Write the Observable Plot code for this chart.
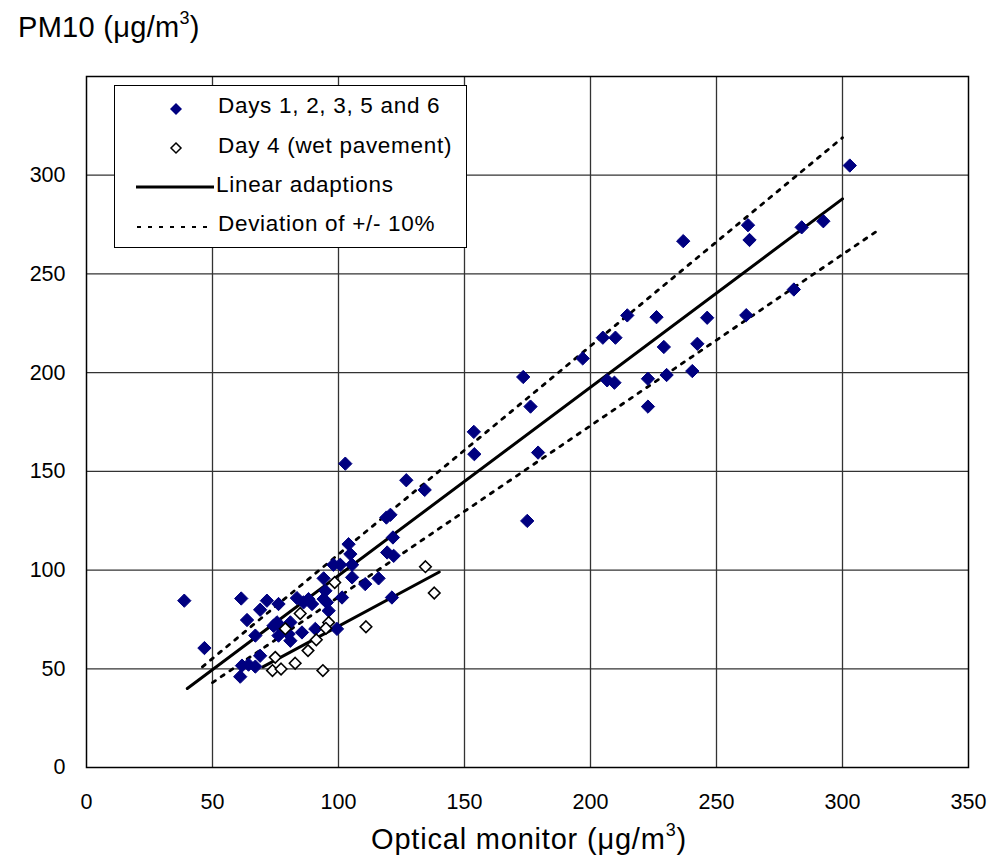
<!DOCTYPE html>
<html>
<head>
<meta charset="utf-8">
<script src="https://cdn.jsdelivr.net/npm/d3@7"></script>
<script src="https://cdn.jsdelivr.net/npm/@observablehq/plot@0.6"></script>
<style>
  html, body { margin: 0; padding: 0; background: #fff; }
  #wrap { position: relative; width: 1002px; height: 856px; font-family: "Liberation Sans", Arial, sans-serif; color: #000; }
  #wrap svg.plot { position: absolute; left: 0; top: 0; }
  .ttl { position: absolute; font-size: 29px; white-space: nowrap; line-height: 1; }
  .ttl sup { font-size: 18px; vertical-align: 13px; line-height: 0; }
  #legend { position: absolute; left: 114px; top: 85px; width: 351px; height: 161px; border: 1.5px solid #000; background: #fff; }
</style>
</head>
<body>
<div id="wrap"></div>
<script>
// Days 1, 2, 3, 5 and 6 (filled diamonds)
const daysX = [38.8,46.8,61.4,61,63.7,61.7,64.3,67,68.9,67,68.9,71.6,76.2,74.2,75.6,76.2,77.6,80.9,80.9,80.2,83.5,85.5,86.1,88.1,89.5,90.8,94.1,94.1,95.4,96.1,94.8,98,100.7,105.4,104.7,104,101.4,99.4,105.4,110.6,115.9,119.3,121.9,121.2,102.7,126.9,134.2,119,120.6,121.6,153.7,153.9,173.3,176.2,179.2,174.9,196.9,204.9,209.9,214.6,226.2,229.1,242.4,206.6,209.5,222.8,230.2,222.8,240.4,236.8,262.5,263.1,283.8,292.4,302.9,280.7,261.8,246.3];
const daysY = [84.5,60.5,85.6,46,74.7,51.6,52.1,51.1,56.6,66.8,79.9,84.5,82.8,71.8,73.5,66.8,70.2,73.5,64.2,67.6,85.8,68.4,83.6,85.3,82.8,70.2,95.8,85.3,83.6,79.4,89.5,102.7,102.7,102.7,108.1,113.1,86.1,70.2,96.3,92.9,95.8,108.9,107.2,86.1,153.9,145.5,140.6,126.6,128,116.5,170,158.7,197.8,182.8,159.5,124.9,207.2,217.7,217.7,229,228.1,213,214.6,196.1,194.9,196.9,198.8,182.8,200.8,266.6,274.7,267.2,273.6,276.7,304.9,242.1,229.1,227.8];
// Day 4 (wet pavement) (open diamonds)
const wetX = [134.5,138,110.9,98.5,96.1,95,84.8,91.2,87.9,82.8,74.9,73.8,77.2,93.8,78.9];
const wetY = [101.7,88.4,71.3,93.7,73.5,70.5,78,64.7,59.2,52.8,55.8,49.1,49.9,49.1,70.3];
// Linear adaptions
const fitX = [40, 300];
const fitY = [40, 288];
const wetFitX = [70, 140];
const wetFitY = [51, 99];
// Deviation of +/- 10%
const upperX = [46, 300];
const upperY = [51, 319];
const lowerX = [50, 314];
const lowerY = [43, 272];
// ticks
const xTicks = [0, 50, 100, 150, 200, 250, 300, 350];
const yTicks = [0, 50, 100, 150, 200, 250, 300];
const gridX = [50, 100, 150, 200, 250, 300];
const gridY = [50, 100, 150, 200, 250, 300];

const days = daysX.map((x, i) => ({x, y: daysY[i]}));
const wet = wetX.map((x, i) => ({x, y: wetY[i]}));
const seg = (xs, ys) => xs.map((x, i) => ({x, y: ys[i]}));

const chart = Plot.plot({
  width: 1002,
  height: 856,
  marginLeft: 86,
  marginRight: 34,
  marginTop: 76,
  marginBottom: 89,
  style: {fontFamily: "Liberation Sans, Arial, sans-serif", fontSize: "21px", color: "#000", background: "#fff"},
  x: {domain: [0, 350], label: null},
  y: {domain: [0, 350], label: null},
  marks: [
    Plot.gridX(gridX, {stroke: "#333", strokeOpacity: 1, strokeWidth: 1.3}),
    Plot.gridY(gridY, {stroke: "#333", strokeOpacity: 1, strokeWidth: 1.3}),
    Plot.axisX(xTicks, {tickSize: 0, tickPadding: 26, fontSize: 21.5, label: null}),
    Plot.axisY(yTicks, {tickSize: 0, tickPadding: 21, fontSize: 21.5, label: null}),
    Plot.line(seg(upperX, upperY), {x: "x", y: "y", stroke: "#000", strokeWidth: 2.8, strokeDasharray: "3.5,7"}),
    Plot.line(seg(lowerX, lowerY), {x: "x", y: "y", stroke: "#000", strokeWidth: 2.8, strokeDasharray: "3.5,7"}),
    Plot.line(seg(fitX, fitY), {x: "x", y: "y", stroke: "#000", strokeWidth: 3}),
    Plot.line(seg(wetFitX, wetFitY), {x: "x", y: "y", stroke: "#000", strokeWidth: 3}),
    Plot.dot(days, {x: "x", y: "y", symbol: "diamond2", r: 6, fill: "#000080", stroke: "#000080", strokeWidth: 1}),
    Plot.dot(wet, {x: "x", y: "y", symbol: "diamond2", r: 5.2, fill: "#fff", stroke: "#000", strokeWidth: 1.6}),
    Plot.frame({stroke: "#000", strokeWidth: 1.5})
  ]
});
chart.classList.add("plot");

const wrap = document.getElementById("wrap");
wrap.appendChild(chart);

const yt = document.createElement("div");
yt.className = "ttl";
yt.style.left = "18px"; yt.style.top = "13px";
yt.style.letterSpacing = "0.3px";
yt.innerHTML = "PM10 (&mu;g/m<sup>3</sup>)";
wrap.appendChild(yt);

const xt = document.createElement("div");
xt.className = "ttl";
xt.style.left = "0px"; xt.style.width = "1058px"; xt.style.textAlign = "center"; xt.style.top = "825px";
xt.style.letterSpacing = "0.8px";
xt.innerHTML = "Optical monitor (&mu;g/m<sup>3</sup>)";
wrap.appendChild(xt);

const lg = document.createElement("div");
lg.id = "legend";
lg.innerHTML = `<svg width="351" height="161" style="font-family: 'Liberation Sans', Arial, sans-serif; font-size: 22.5px; letter-spacing: 0.7px;">
  <path d="M61,17 l6,6 l-6,6 l-6,-6 z" fill="#000080"/>
  <path d="M61,57 l5,5 l-5,5 l-5,-5 z" fill="#fff" stroke="#000" stroke-width="1.5"/>
  <line x1="21" x2="99" y1="101" y2="101" stroke="#000" stroke-width="3.2"/>
  <line x1="22" x2="99" y1="141" y2="141" stroke="#000" stroke-width="2" stroke-dasharray="4,7"/>
  <text x="103" y="27">Days 1, 2, 3, 5 and 6</text>
  <text x="103" y="67">Day 4 (wet pavement)</text>
  <text x="101" y="106">Linear adaptions</text>
  <text x="103" y="145">Deviation of +/- 10%</text>
</svg>`;
wrap.appendChild(lg);
</script>
</body>
</html>
